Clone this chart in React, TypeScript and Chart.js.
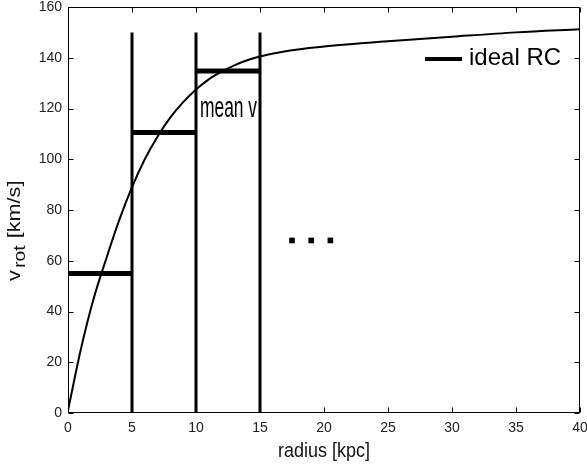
import React, { useEffect, useRef } from "react";
import { Chart, registerables } from "chart.js";

Chart.register(...registerables);

// ideal rotation curve (radius in kpc, velocity in km/s)
const curveR = [0, 1, 2, 3, 4, 5, 6, 7, 8, 9, 10, 11, 12, 13, 14, 15, 17, 20, 25, 30, 35, 40];
const curveV = [1, 25, 45, 61, 76, 89, 100, 109, 116.5, 122.5, 127.5, 131.5, 134.5, 137, 139, 140.5, 142.6, 144.4, 146.5, 148.3, 150, 151.2];

// radial bins and their mean velocities
const binEdges = [0, 5, 10, 15];
const binLineTop = 150;
const meanV = [55, 110.5, 134.8];

// "..." continuation dots
const dotsR = [17.5, 19, 20.5];
const dotsV = [68, 68, 68];

const xMin = 0;
const xMax = 40;
const xStep = 5;
const yMin = 0;
const yMax = 160;
const yStep = 20;

const legendLabel = "ideal RC";
const meanLabel = "mean v";
const xTitle = "radius [kpc]";
const yTitleMain = "v";
const yTitleSub = "rot";
const yTitleUnit = "[km/s]";

const FONT = "'Liberation Sans', Arial, sans-serif";

const decorPlugin = {
  id: "decor",
  afterDraw(chart: any) {
    const { ctx, chartArea: a, scales } = chart;
    const xs = scales.x;
    const ys = scales.y;
    const L = Math.round(a.left) + 0.5;
    const R = Math.round(a.right) - 0.5;
    const T = Math.round(a.top) + 0.5;
    const B = Math.round(a.bottom) - 0.5;
    ctx.save();
    ctx.strokeStyle = "#000";
    ctx.lineWidth = 1;
    ctx.beginPath();
    ctx.rect(L, T, R - L, B - T);
    const tl = 5;
    xs.ticks.forEach((t: any) => {
      const p = Math.round(xs.getPixelForValue(t.value)) + 0.5;
      ctx.moveTo(p, B);
      ctx.lineTo(p, B - tl);
      ctx.moveTo(p, T);
      ctx.lineTo(p, T + tl);
    });
    ys.ticks.forEach((t: any) => {
      const p = Math.round(ys.getPixelForValue(t.value)) + 0.5;
      ctx.moveTo(L, p);
      ctx.lineTo(L + tl, p);
      ctx.moveTo(R, p);
      ctx.lineTo(R - tl, p);
    });
    ctx.stroke();

    // x title
    ctx.fillStyle = "#111";
    ctx.save();
    ctx.translate((a.left + a.right) / 2, 457);
    ctx.scale(1, 1.15);
    ctx.font = `18px ${FONT}`;
    ctx.textAlign = "center";
    ctx.textBaseline = "alphabetic";
    ctx.fillText(xTitle, 0, 0);
    ctx.restore();

    // y title with subscript
    ctx.save();
    ctx.translate(20, 281);
    ctx.rotate(-Math.PI / 2);
    ctx.scale(1.2, 1);
    ctx.textAlign = "left";
    ctx.textBaseline = "alphabetic";
    ctx.font = `18px ${FONT}`;
    ctx.fillText(yTitleMain, 0, 0);
    let pos = ctx.measureText(yTitleMain).width + 2;
    ctx.font = `16px ${FONT}`;
    ctx.fillText(yTitleSub, pos, 5);
    pos += ctx.measureText(yTitleSub).width + 6;
    ctx.font = `18px ${FONT}`;
    ctx.fillText(yTitleUnit, pos, 0);
    ctx.restore();

    // legend
    ctx.save();
    ctx.strokeStyle = "#000";
    ctx.lineWidth = 4;
    ctx.beginPath();
    ctx.moveTo(425, 59);
    ctx.lineTo(462, 59);
    ctx.stroke();
    ctx.fillStyle = "#000";
    ctx.font = `24px ${FONT}`;
    ctx.textAlign = "left";
    ctx.textBaseline = "alphabetic";
    ctx.fillText(legendLabel, 469, 65);
    ctx.restore();

    // "mean v" annotation (condensed)
    ctx.save();
    ctx.translate(200, 117);
    ctx.scale(0.58, 1);
    ctx.fillStyle = "#000";
    ctx.font = `30px ${FONT}`;
    ctx.textAlign = "left";
    ctx.textBaseline = "alphabetic";
    ctx.fillText(meanLabel, 0, 0);
    ctx.restore();

    ctx.restore();
  },
};

export default function App() {
  const ref = useRef<HTMLCanvasElement | null>(null);

  useEffect(() => {
    document.body.style.margin = "0";
    const canvas = ref.current;
    if (!canvas) return;

    const datasets: any[] = [];
    // vertical bin boundaries (the one at 0 coincides with the axis)
    binEdges.slice(1).forEach((e) => {
      datasets.push({
        data: [
          { x: e, y: 0 },
          { x: e, y: binLineTop },
        ],
        borderColor: "#000",
        borderWidth: 3,
        pointRadius: 0,
        tension: 0,
      });
    });
    // mean velocity bars
    meanV.forEach((v, i) => {
      datasets.push({
        data: [
          { x: binEdges[i], y: v },
          { x: binEdges[i + 1], y: v },
        ],
        borderColor: "#000",
        borderWidth: 5,
        borderCapStyle: "butt",
        pointRadius: 0,
        tension: 0,
      });
    });
    // ideal rotation curve
    datasets.push({
      data: curveR.map((r, i) => ({ x: r, y: curveV[i] })),
      borderColor: "#000",
      borderWidth: 2,
      pointRadius: 0,
      cubicInterpolationMode: "monotone",
    });
    // dots
    datasets.push({
      data: dotsR.map((r, i) => ({ x: r, y: dotsV[i] })),
      showLine: false,
      pointStyle: "rect",
      pointRadius: 4,
      backgroundColor: "#000",
      borderColor: "#000",
      borderWidth: 0,
    });

    const tickFont = { family: FONT, size: 14 };

    const chart = new Chart(canvas, {
      type: "line",
      data: { datasets },
      options: {
        animation: false,
        responsive: false,
        devicePixelRatio: 1,
        layout: { padding: { top: 7, right: 7, left: 0, bottom: 0 } },
        plugins: {
          legend: { display: false },
          tooltip: { enabled: false },
          title: { display: false },
        },
        scales: {
          x: {
            type: "linear",
            min: xMin,
            max: xMax,
            ticks: {
              stepSize: xStep,
              color: "#222",
              font: tickFont,
              padding: 7,
              maxRotation: 0,
              autoSkip: false,
            },
            grid: { display: false, drawTicks: false },
            border: { display: false },
            afterFit: (s: any) => {
              s.height = 53;
              s.paddingLeft = 0;
              s.paddingRight = 0;
            },
          },
          y: {
            type: "linear",
            min: yMin,
            max: yMax,
            ticks: {
              stepSize: yStep,
              color: "#222",
              font: tickFont,
              padding: 6,
              autoSkip: false,
            },
            grid: { display: false, drawTicks: false },
            border: { display: false },
            afterFit: (s: any) => {
              s.width = 68;
              s.paddingTop = 0;
              s.paddingBottom = 0;
            },
          },
        },
      },
      plugins: [decorPlugin],
    } as any);

    return () => chart.destroy();
  }, []);

  return (
    <div style={{ width: 587, height: 466 }}>
      <canvas ref={ref} width={587} height={466} style={{ display: "block", width: 587, height: 466 }} />
    </div>
  );
}
